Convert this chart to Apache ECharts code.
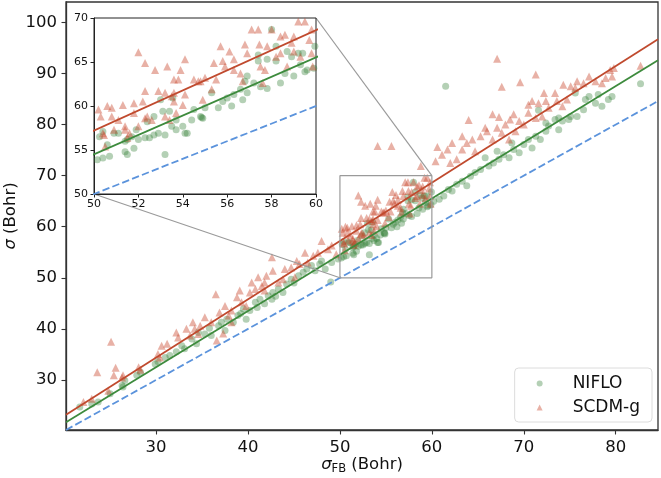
<!DOCTYPE html>
<html>
<head>
<meta charset="utf-8">
<script src="https://cdn.jsdelivr.net/npm/echarts@6/dist/echarts.min.js"></script>
<style>html,body{margin:0;padding:0;background:#fff}#chart{width:661px;height:478px}</style>
</head>
<body>
<div id="chart"></div>
<script>
// ticks / ranges
var xTicks=[30,40,50,60,70,80];
var yTicks=[30,40,50,60,70,80,90,100];
var insetXTicks=[50,52,54,56,58,60];
var insetYTicks=[50,55,60,65,70];
var xRange=[20.2,84.6];
var yRange=[20.2,104];
var insetXRange=[50,60];
var insetYRange=[50,70];

// reference line y=x, fitted lines, zoom box
var diag=[[20.2,20.2],[84.6,84.6]];
var nifloFit=[[20.2,21.7],[84.6,92.6]];
var scdmFit=[[20.2,23.2],[84.6,96.7]];
var zoomBox=[[50,50],[60,50],[60,70],[50,70],[50,50]];

// NIFLO (sigma_FB, sigma)
var nifloPts=[
 [21.7,24.7],[23.0,25.3],[23.7,25.7],[25.0,27.3],[26.3,28.9],[26.6,29.9],[26.4,28.6],[27.9,30.9],
 [28.3,31.5],[29.9,33.1],[30.2,33.6],[31.0,34.4],[31.5,34.8],[32.2,35.5],[32.8,36.7],[33.1,36.1],
 [33.9,38.0],[34.4,37.1],[34.6,39.3],[35.3,39.0],[35.8,40.1],[36.0,38.7],[36.8,40.6],[37.1,41.3],
 [37.5,39.7],[37.7,41.9],[38.4,41.3],[38.9,42.6],[39.2,43.0],[39.5,43.9],[39.8,41.9],[40.2,43.6],
 [40.8,45.2],[41.0,44.2],[41.3,45.8],[41.8,44.9],[42.2,46.5],[42.6,45.8],[42.7,47.1],[43.0,46.4],
 [43.3,47.8],[43.8,47.1],[44.2,48.8],[44.7,49.7],[45.0,49.0],[45.5,50.4],[46.0,51.1],[46.4,51.7],
 [46.9,52.4],[47.3,51.4],[47.8,52.7],[48.0,53.3],[48.4,51.7],[49.0,49.2],[49.1,53.0],[49.8,53.7],
 [50.15,53.9],[50.4,54.1],[50.7,54.3],[50.6,55.6],[50.9,56.9],[50.25,56.5],[50.4,57.1],[51.1,56.9],
 [51.4,56.0],[51.4,54.8],[51.5,54.5],[51.5,56.2],[51.7,56.5],[51.8,55.2],[52.0,56.2],[51.9,57.3],
 [52.3,56.4],[52.5,56.4],[52.7,56.7],[52.9,56.9],[53.2,56.7],[53.2,54.5],[53.5,57.7],[53.7,57.3],
 [53.7,58.4],[53.1,59.4],[53.4,59.4],[54.0,57.7],[54.4,58.4],[54.5,59.6],[54.9,58.6],[55.0,59.8],
 [55.3,61.5],[55.6,59.8],[55.8,60.5],[56.0,60.9],[56.3,61.3],[56.2,60.0],[56.7,60.7],[56.8,62.8],
 [56.9,61.5],[57.2,62.6],[57.4,65.1],[57.5,62.2],[57.8,62.0],[57.8,65.3],[58.2,65.1],[58.4,62.6],
 [58.6,63.7],[58.7,66.2],[58.9,65.6],[59.0,63.4],[59.3,64.7],[59.5,63.9],[59.6,64.1],[59.9,64.3],
 [59.95,66.8],[58.0,68.7],[58.2,66.8],[59.2,66.0],[59.4,66.0],[57.4,65.8],[54.8,58.8],[54.85,58.7],
 [52.4,58.2],[52.7,58.8],[53.55,60.9],[54.1,56.9],[54.2,56.9],[53.0,60.7],[56.6,61.9],[56.9,63.4],
 [60.2,65.0],[60.8,65.4],[61.3,66.0],[61.8,67.3],[62.2,67.0],[62.7,68.3],[63.3,68.9],[63.8,68.0],
 [64.2,69.9],[64.7,70.6],[65.3,71.2],[65.8,73.5],[66.2,71.9],[66.7,72.5],[67.1,74.8],[67.3,73.2],
 [67.8,74.1],[68.4,73.5],[68.7,76.4],[68.9,75.1],[69.5,74.5],[70.0,76.1],[70.5,77.1],[70.9,75.4],
 [71.3,77.7],[71.6,82.8],[71.8,77.1],[72.4,78.7],[72.4,80.3],[72.7,79.7],[73.4,81.0],[73.8,79.0],
 [73.8,81.3],[74.2,80.7],[74.9,81.0],[75.1,81.6],[75.6,86.2],[75.8,81.6],[76.5,82.9],[76.7,84.9],
 [77.1,85.5],[77.8,84.2],[78.1,85.9],[78.5,83.6],[79.2,84.9],[79.6,85.5],[82.7,88.0],[61.5,87.5]
];

// SCDM-g (sigma_FB, sigma)
var scdmPts=[
 [22.1,25.7],[23.0,26.3],[23.6,31.5],[24.8,27.9],[25.1,37.5],[25.4,30.9],[25.6,32.4],[26.3,30.5],
 [26.4,30.9],[28.1,32.5],[28.3,32.0],[30.2,35.1],[30.4,34.4],[30.6,36.7],[31.2,37.1],[32.2,39.3],
 [32.4,38.3],[33.3,40.0],[33.7,38.7],[34.0,41.3],[34.2,40.0],[34.6,39.0],[34.8,40.6],[35.3,42.3],
 [36.0,41.3],[36.5,46.8],[36.6,37.7],[36.9,43.2],[37.3,39.1],[37.5,44.5],[37.9,42.6],[38.2,43.6],
 [38.2,41.3],[38.8,46.2],[39.1,47.5],[39.3,45.2],[39.8,44.5],[40.2,47.1],[40.4,49.1],[40.8,47.8],
 [41.1,50.1],[41.5,48.4],[41.8,49.1],[41.8,47.5],[42.0,50.4],[42.6,54.0],[42.7,51.4],[43.3,49.1],
 [43.8,49.7],[44.0,51.7],[44.7,52.0],[45.1,50.1],[45.3,53.3],[45.6,52.7],[46.2,54.9],[46.5,53.0],
 [47.1,54.3],[47.6,54.9],[48.0,57.2],[48.7,55.6],[49.1,56.3],[49.6,54.6],
 [52.0,66.1],[52.3,64.9],[52.75,64.1],[53.3,64.5],[54.1,65.3],[53.9,64.1],[53.6,63.0],[53.8,63.0],
 [54.5,63.0],[54.8,62.8],[55.7,66.8],[56.1,66.2],[55.4,64.9],[55.8,65.1],[55.9,64.5],[56.3,64.1],
 [56.7,62.8],[56.8,67.0],[57.1,68.7],[57.4,68.7],[57.45,67.0],[57.8,66.8],[58.0,68.7],[58.4,67.9],
 [58.6,68.1],[59.0,67.9],[59.2,69.6],[59.5,69.6],[59.8,68.7],[59.7,67.5],[57.5,64.5],[57.7,64.1],
 [57.6,62.6],[58.4,66.0],[58.9,67.2],[59.0,66.2],[56.9,66.0],[50.2,59.6],[50.3,58.8],[50.8,59.8],
 [51.3,60.1],[51.8,60.3],[52.2,60.5],[52.3,61.7],[52.9,61.7],[53.2,61.5],[53.5,61.1],[53.6,61.5],
 [54.0,60.1],[54.9,60.7],[55.3,61.9],[54.7,62.8],[50.4,56.9],[50.45,56.7],[50.9,57.3],[51.4,57.7],
 [51.4,57.3],[51.6,56.9],[52.0,57.7],[52.3,58.6],[52.4,58.8],[52.6,58.4],[53.2,58.8],[53.4,58.4],
 [53.7,59.2],[50.8,58.8],[51.1,58.4],[51.8,59.2],[50.5,55.4],[51.5,56.4],[53.6,60.5],[54.1,61.3],
 [55.0,63.2],[55.5,63.0],[56.3,65.3],[56.6,63.7],[58.2,65.6],[58.7,64.5],[59.3,65.6],[59.8,66.0],
 [59.85,64.5],[50.6,60.0],[54.1,75.8],[55.6,75.8],[58.8,71.9],[60.4,72.8],
 [60.6,75.6],[61.1,74.1],[61.7,75.1],[62.0,72.5],[62.2,76.4],[62.7,73.2],[63.3,75.1],[63.3,77.7],
 [63.8,76.4],[64.0,80.9],[64.4,77.1],[64.7,74.8],[65.3,77.7],[65.8,79.4],[66.0,78.7],[66.6,82.0],
 [66.6,77.1],[67.1,92.9],[67.1,79.4],[67.3,81.5],[67.6,87.4],[67.6,78.4],[68.0,80.0],[68.4,77.1],
 [68.5,81.0],[68.9,82.0],[69.1,78.7],[69.5,80.7],[69.6,88.3],[70.0,80.0],[70.5,83.9],[70.5,82.3],
 [70.9,84.6],[71.3,89.8],[71.3,81.3],[71.6,84.2],[72.0,81.6],[72.2,86.2],[72.4,84.6],[72.7,83.3],
 [73.4,86.2],[73.6,84.6],[74.2,83.6],[74.3,87.8],[74.7,84.9],[75.1,87.5],[75.6,87.2],[75.8,88.5],
 [76.5,88.1],[77.1,89.4],[77.8,88.5],[78.5,88.1],[78.9,89.1],[79.4,90.7],[79.6,89.4],[79.8,91.1],
 [82.7,91.5]
];

var FONT='DejaVu Sans';
var GREEN='#2e7d32', RED='#c8442c', BLUE='#5b93dc';

var chart=echarts.init(document.getElementById('chart'));

function seriesFor(idx,zl){
    var base={xAxisIndex:idx,yAxisIndex:idx,zlevel:zl};
    return [
        Object.assign({name:'NIFLO',type:'scatter',symbol:'circle',symbolSize:7,clip:true,
            itemStyle:{color:GREEN,opacity:0.36},data:nifloPts,z:2},base),
        Object.assign({name:'SCDM-g',type:'scatter',symbol:'triangle',symbolSize:8,clip:true,
            itemStyle:{color:RED,opacity:0.42},data:scdmPts,z:3},base),
        Object.assign({type:'line',symbol:'none',clip:true,silent:true,
            lineStyle:{color:'#3d8b3d',width:1.8},data:nifloFit,z:4},base),
        Object.assign({type:'line',symbol:'none',clip:true,silent:true,
            lineStyle:{color:'#c04a2e',width:1.8},data:scdmFit,z:4},base),
        Object.assign({type:'line',symbol:'none',clip:true,silent:true,
            lineStyle:{color:BLUE,width:1.8,type:[7.4,3.2]},data:diag,z:4},base)
    ];
}

var mainSeries=seriesFor(0,0);
mainSeries.push({type:'line',xAxisIndex:0,yAxisIndex:0,symbol:'none',silent:true,
    lineStyle:{color:'#9a9a9a',width:1.2},data:zoomBox,z:5});
var allSeries=mainSeries.concat(seriesFor(1,1));

var axisCommon={
    axisLine:{show:true,onZero:false,lineStyle:{color:'#333',width:1.3}},
    axisTick:{show:true,length:4.5,lineStyle:{color:'#333',width:1.1}},
    splitLine:{show:false},
    nameMoveOverlap:false
};

option={
    animation:false,
    backgroundColor:'#fff',
    grid:[
        {left:66,right:3,top:2,bottom:48,outerBoundsMode:'none',
         show:true,borderColor:'#333',borderWidth:1.3},
        {left:94,top:18,width:222,height:176,outerBoundsMode:'none',
         show:true,backgroundColor:'#fff',borderColor:'#222',borderWidth:1,zlevel:1}
    ],
    legend:{
        right:9,bottom:56,orient:'vertical',itemGap:7,itemWidth:6,itemHeight:6,
        padding:[7,12,6,22],
        backgroundColor:'rgba(255,255,255,0.8)',borderColor:'#dcdcdc',borderWidth:1,borderRadius:4,
        textStyle:{fontFamily:FONT,fontSize:17,color:'#111',padding:[0,0,0,25]},
        data:[{name:'NIFLO',icon:'circle'},{name:'SCDM-g',icon:'triangle'}]
    },
    xAxis:[
        Object.assign({},axisCommon,{type:'value',gridIndex:0,min:xRange[0],max:xRange[1],
            axisLabel:{fontFamily:FONT,fontSize:16.5,color:'#111',margin:9,customValues:xTicks},
            axisTick:Object.assign({},axisCommon.axisTick,{customValues:xTicks}),
            name:'{i|σ}{s|FB} (Bohr)',nameLocation:'middle',nameGap:25,
            nameTextStyle:{fontFamily:FONT,fontSize:16.5,color:'#111',
                rich:{i:{fontFamily:FONT,fontSize:16.5,fontStyle:'italic',color:'#111'},
                      s:{fontFamily:FONT,fontSize:11.5,color:'#111',padding:[8,0,0,0]}}}}),
        Object.assign({},axisCommon,{type:'value',gridIndex:1,min:insetXRange[0],max:insetXRange[1],zlevel:1,
            axisLine:{show:true,onZero:false,lineStyle:{color:'#222',width:1}},
            axisLabel:{fontFamily:FONT,fontSize:11,color:'#111',margin:5,customValues:insetXTicks},
            axisTick:{show:true,length:3.5,lineStyle:{color:'#222'},customValues:insetXTicks}})
    ],
    yAxis:[
        Object.assign({},axisCommon,{type:'value',gridIndex:0,min:yRange[0],max:yRange[1],
            axisLabel:{fontFamily:FONT,fontSize:16.5,color:'#111',margin:9,customValues:yTicks},
            axisTick:Object.assign({},axisCommon.axisTick,{customValues:yTicks}),
            name:'{i|σ} (Bohr)',nameLocation:'middle',nameGap:47,
            nameTextStyle:{fontFamily:FONT,fontSize:16.5,color:'#111',
                rich:{i:{fontFamily:FONT,fontSize:16.5,fontStyle:'italic',color:'#111'}}}}),
        Object.assign({},axisCommon,{type:'value',gridIndex:1,min:insetYRange[0],max:insetYRange[1],zlevel:1,
            axisLine:{show:true,onZero:false,lineStyle:{color:'#222',width:1}},
            axisLabel:{fontFamily:FONT,fontSize:11,color:'#111',margin:6,customValues:insetYTicks},
            axisTick:{show:true,length:3.5,lineStyle:{color:'#222'},customValues:insetYTicks}})
    ],
    series:allSeries
};
chart.setOption(option);

// connector lines from inset corners to the zoom box corners
var p1=chart.convertToPixel({gridIndex:1},[60,70]);
var q1=chart.convertToPixel({gridIndex:0},[60,70]);
var p2=chart.convertToPixel({gridIndex:1},[50,50]);
var q2=chart.convertToPixel({gridIndex:0},[50,50]);
chart.setOption({
    graphic:[
        {type:'line',z:6,silent:true,shape:{x1:p1[0],y1:p1[1],x2:q1[0],y2:q1[1]},style:{stroke:'#9a9a9a',lineWidth:1.2}},
        {type:'line',z:6,silent:true,shape:{x1:p2[0],y1:p2[1],x2:q2[0],y2:q2[1]},style:{stroke:'#9a9a9a',lineWidth:1.2}}
    ]
});
</script>
</body>
</html>
